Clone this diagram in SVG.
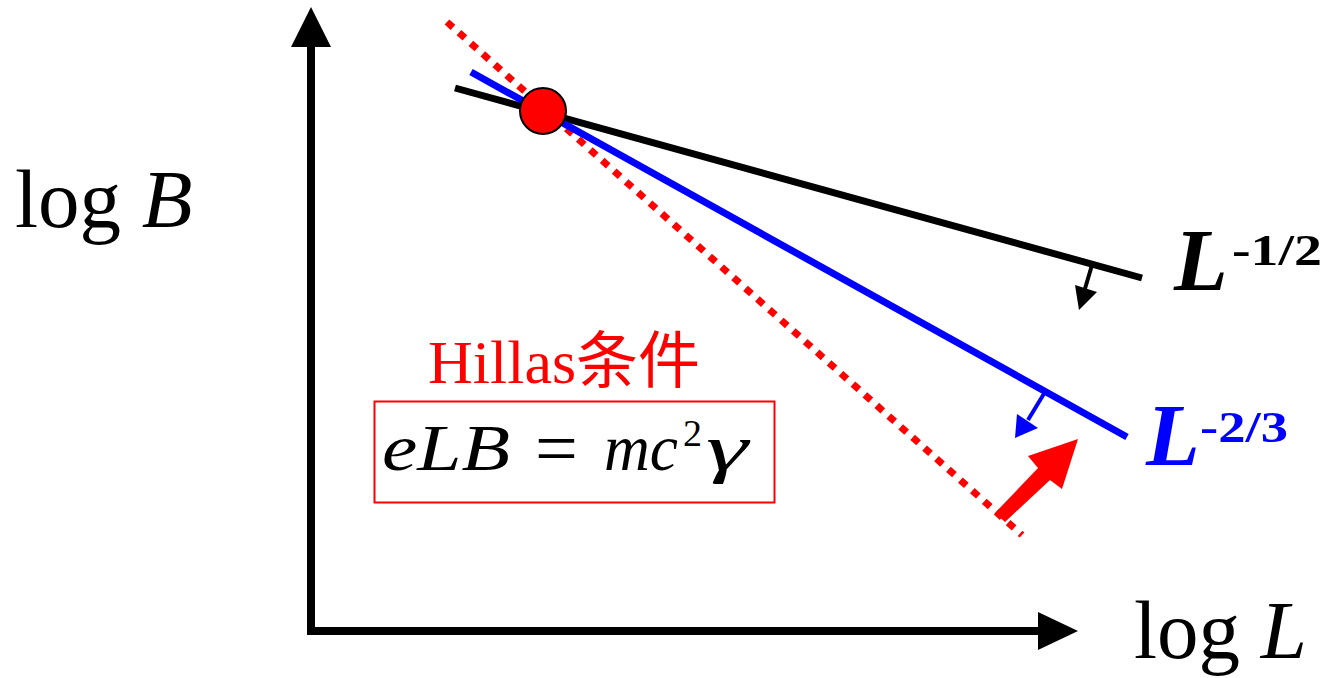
<svg xmlns="http://www.w3.org/2000/svg" width="1335" height="678" viewBox="0 0 1335 678">
<style>
.ax{stroke:#000;stroke-width:8;fill:none}
.serif{font-family:"Liberation Serif","Times New Roman",serif}
.lbl{font-size:83px}
.big{font-size:88px;font-weight:bold;font-style:italic}
.sup{font-size:44px;font-weight:bold}
.math{font-size:66px;font-style:italic;fill:#000}
</style>
<rect width="1335" height="678" fill="#fff"/>
<g id="axes">
<line class="ax" x1="311" y1="634" x2="311" y2="44"/>
<polygon points="311,7 291,47 331,47" fill="#000"/>
<line class="ax" x1="307" y1="631" x2="1040" y2="631"/>
<polygon points="1078,631 1038,612 1038,650" fill="#000"/>
</g>
<g id="connectors">
<line x1="447" y1="22" x2="1022" y2="535" stroke="#f00" stroke-width="7" stroke-dasharray="8 8"/>
<line x1="455" y1="88" x2="1142" y2="278" stroke="#000" stroke-width="7"/>
<line x1="471" y1="72" x2="1127" y2="437" stroke="#00f" stroke-width="7"/>
<line x1="1092" y1="265" x2="1084" y2="292" stroke="#000" stroke-width="4"/>
<polygon points="1079,310 1075,285 1097,292" fill="#000"/>
<line x1="1045" y1="392" x2="1028" y2="420" stroke="#00f" stroke-width="4"/>
<polygon points="1015,438 1017,414 1038,428" fill="#00f"/>
<polygon points="995,513 1038,468 1028,456 1078,439 1062,489 1050,480 1005,522" fill="#f00"/>
</g>
<g id="point">
<circle cx="543" cy="111" r="23" fill="#f00" stroke="#000" stroke-width="2"/>
</g>
<g id="labels">
<text class="serif lbl" x="15" y="227">log <tspan font-style="italic">B</tspan></text>
<text class="serif lbl" x="1134" y="658">log <tspan font-style="italic">L</tspan></text>
<text class="serif big" x="1174" y="290" fill="#000">L</text>
<text class="serif sup" x="1232" y="265" fill="#000" textLength="90" lengthAdjust="spacingAndGlyphs">-1/2</text>
<text class="serif big" x="1146" y="465" fill="#00f">L</text>
<text class="serif sup" x="1200" y="442" fill="#00f" textLength="88" lengthAdjust="spacingAndGlyphs">-2/3</text>
</g>
<g id="hillas">
<text x="428" y="383" fill="#f00" font-size="62" font-family="'Liberation Serif','Noto Sans CJK SC',serif">Hillas<tspan font-family="'Noto Sans CJK SC',sans-serif" font-size="62">条件</tspan></text>
<rect x="374.5" y="401.5" width="400" height="101" fill="none" stroke="#f00" stroke-width="2"/>
<text class="serif math" x="382" y="470" textLength="128" lengthAdjust="spacingAndGlyphs">eLB</text>
<text class="serif" x="535" y="474" font-size="76" fill="#000">=</text>
<text class="serif math" x="604" y="470" textLength="74" lengthAdjust="spacingAndGlyphs">mc</text>
<text class="serif" x="683" y="446" font-size="38" fill="#000">2</text>
<text class="serif math" x="706" y="470" font-size="68" textLength="42" lengthAdjust="spacingAndGlyphs">γ</text>
</g>
</svg>
